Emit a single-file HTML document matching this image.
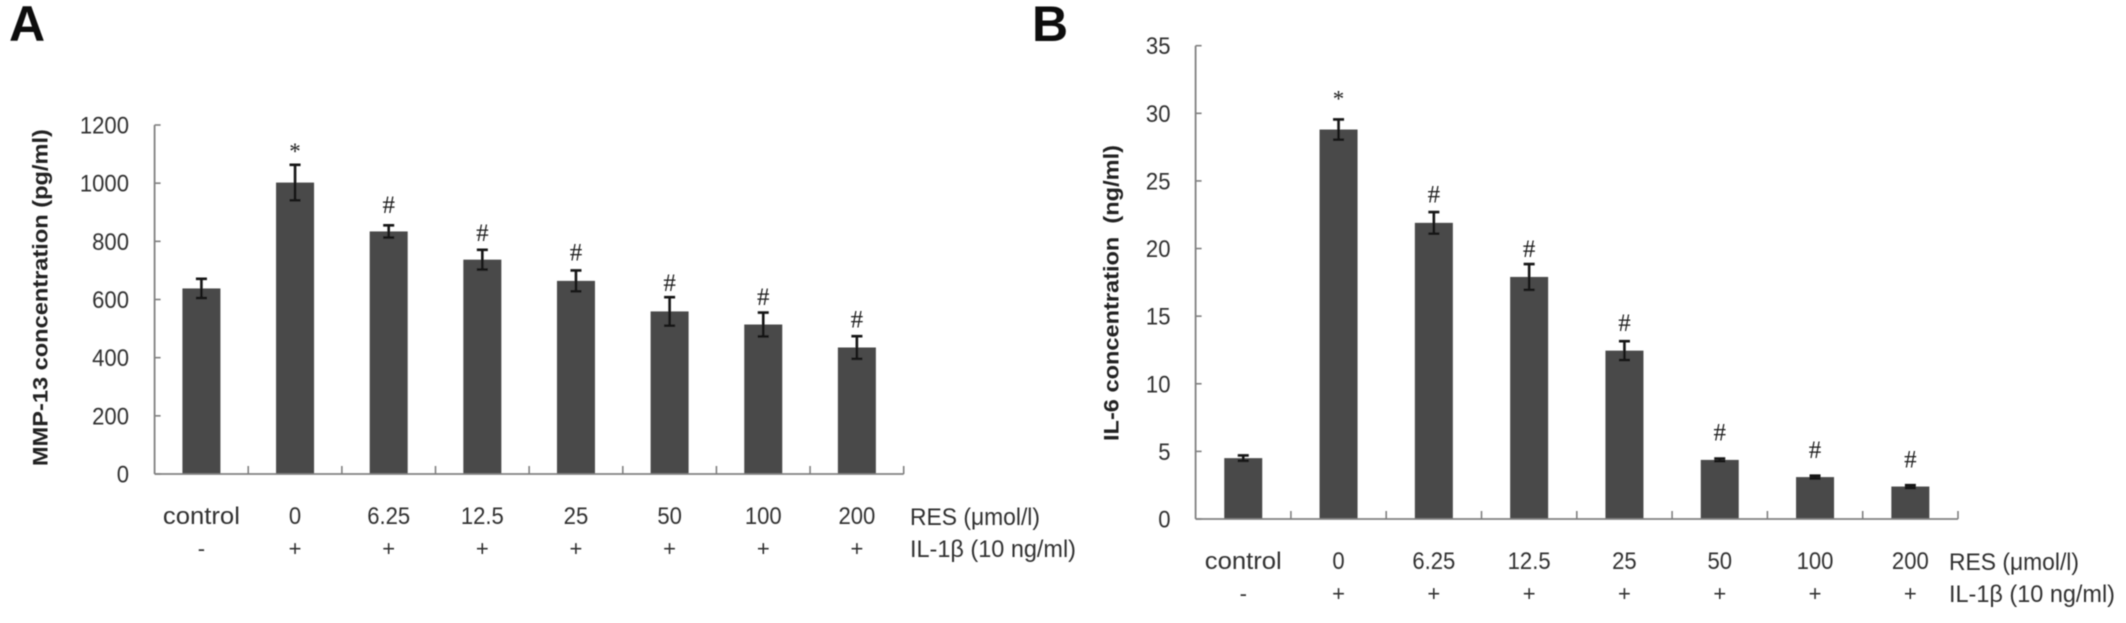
<!DOCTYPE html>
<html lang="en">
<head>
<meta charset="utf-8">
<title>MMP-13 and IL-6 concentration charts</title>
<style>
html,body{margin:0;padding:0;background:#fff;width:2126px;height:623px;overflow:hidden}
svg{display:block}
text{font-family:"Liberation Sans",sans-serif;fill:#303030;white-space:pre}
</style>
</head>
<body>
<svg id="figure" width="2126" height="623" viewBox="0 0 2126 623" xmlns="http://www.w3.org/2000/svg">
<defs><filter id="soft" x="-2%" y="-2%" width="104%" height="104%"><feGaussianBlur stdDeviation="0.6"/></filter></defs>
<g id="root" filter="url(#soft)"></g>
</svg>
<script>
const categories = ['control','0','6.25','12.5','25','50','100','200'];
const il1Row = ['-','+','+','+','+','+','+','+'];
const markers = ['','*','#','#','#','#','#','#'];

const valuesA = [638,1002,834,737,664,559,514,435];
const errorsA = [33,61,21,34,36,49,41,39];
const markerLevelsA = [0,1111,920,824,756,652,604,526];
const ticksA = [0,200,400,600,800,1000,1200];

const valuesB = [4.5,28.8,21.9,17.9,12.45,4.37,3.1,2.4];
const errorsB = [0.2,0.75,0.8,0.95,0.7,0.1,0.1,0.1];
const markerLevelsB = [0,31.1,23.9,19.85,14.4,6.3,5.0,4.3];
const ticksB = [0,5,10,15,20,25,30,35];

const NS = 'http://www.w3.org/2000/svg';
const root = document.getElementById('root');

function make(tag, attrs, txt, parent) {
  const el = document.createElementNS(NS, tag);
  for (const k in attrs) el.setAttribute(k, attrs[k]);
  if (txt !== undefined) el.textContent = txt;
  (parent || root).appendChild(el);
  return el;
}

function narrow(el, factor) {
  el.setAttribute('textLength', el.getComputedTextLength() * factor);
  el.setAttribute('lengthAdjust', 'spacingAndGlyphs');
}

function drawChart(cfg) {
  const g = make('g', {});
  
  
  const maxV = cfg.ticks[cfg.ticks.length - 1];
  const y = v => cfg.y0 - (v / maxV) * (cfg.y0 - cfg.y1);
  const band = (cfg.x1 - cfg.x0) / categories.length;
  const x = i => cfg.x0 + band * (i + 0.5);
  const barW = 38;

  categories.forEach((c, i) => {
    const v = cfg.values[i], e = cfg.errors[i], cx = x(i);
    const bar = make('rect', {x: cx - barW / 2, y: y(v), width: barW, height: cfg.y0 - y(v), fill: '#4a4a4a'}, undefined, g);
    
    

    const eb = make('path', {
      d: `M${cx} ${y(v + e)}V${y(v - e)}M${cx - 5.5} ${y(v + e)}H${cx + 5.5}M${cx - 5.5} ${y(v - e)}H${cx + 5.5}`,
      stroke: '#141414', 'stroke-width': 2.6, fill: 'none'
    }, undefined, g);
    
    

    if (markers[i]) {
      const isStar = markers[i] === '*';
      const m = make('text', {
        x: cx, y: y(cfg.markerLevels[i]) + (isStar ? 8 : 6.5), 'text-anchor': 'middle',
        'font-size': isStar ? 23 : 25, style: 'font-family:"Liberation Serif",serif;fill:#1e1e1e'
      }, markers[i], g);
      
      
    }

    const lab = make('text', {x: cx, y: cfg.labelY, 'text-anchor': 'middle', 'font-size': 24}, c, g);
    if (c === 'control') {
      lab.setAttribute('textLength', 77);
      lab.setAttribute('lengthAdjust', 'spacingAndGlyphs');
    } else {
      narrow(lab, 0.92);
    }
    
    

    const sign = make('text', {x: cx, y: cfg.labelY + 32, 'text-anchor': 'middle', 'font-size': 22}, il1Row[i], g);
    
    
  });

  const yAxis = make('line', {x1: cfg.x0, x2: cfg.x0, y1: cfg.y1, y2: cfg.y0, stroke: '#808080', 'stroke-width': 1.8}, undefined, g);
  
  
  const xAxis = make('line', {x1: cfg.x0, x2: cfg.x1, y1: cfg.y0, y2: cfg.y0, stroke: '#808080', 'stroke-width': 1.8}, undefined, g);
  
  

  cfg.ticks.forEach(t => {
    const tk = make('line', {x1: cfg.x0, x2: cfg.x0 + 6, y1: y(t), y2: y(t), stroke: '#808080', 'stroke-width': 1.6}, undefined, g);
    
    
    const tl = make('text', {x: cfg.tickX, y: y(t) + 8.5, 'text-anchor': 'end', 'font-size': 24}, String(t), g);
    narrow(tl, 0.92);
    
    
  });
  for (let i = 1; i <= categories.length; i++) {
    const px = cfg.x0 + band * i;
    const xt = make('line', {x1: px, x2: px, y1: cfg.y0, y2: cfg.y0 - 8, stroke: '#808080', 'stroke-width': 1.6}, undefined, g);
    
    
  }

  const title = make('text', {
    transform: `translate(${cfg.titleX} ${cfg.titleY}) rotate(-90)`, 'text-anchor': 'middle', 'font-size': 21,
    'font-weight': 'bold', textLength: cfg.titleLen, lengthAdjust: 'spacingAndGlyphs', style: 'fill:#222'
  }, cfg.title, g);
  
  

  const res = make('text', {x: cfg.rowX, y: cfg.labelY + 1, 'font-size': 24, textLength: 130, lengthAdjust: 'spacingAndGlyphs'}, 'RES (μmol/l)', g);
  
  
  const il = make('text', {x: cfg.rowX, y: cfg.labelY + 33, 'font-size': 24, textLength: 166, lengthAdjust: 'spacingAndGlyphs'}, 'IL-1β (10 ng/ml)', g);
  
  

  const letter = make('text', {x: cfg.letterX, y: 41, 'font-size': 50, 'font-weight': 'bold', style: 'fill:#111'}, cfg.letter, g);
  
  
}

drawChart({
  name: 'panel-a-mmp13-chart', letter: 'A', letterX: 9,
  x0: 154.6, x1: 903.7, y0: 474, y1: 125, tickX: 129, labelY: 524, rowX: 910,
  titleX: 47.5, titleY: 297.6, titleLen: 337, title: 'MMP-13 concentration (pg/ml)',
  values: valuesA, errors: errorsA, markerLevels: markerLevelsA, ticks: ticksA
});
drawChart({
  name: 'panel-b-il6-chart', letter: 'B', letterX: 1032,
  x0: 1195.6, x1: 1958, y0: 519, y1: 45.7, tickX: 1170.5, labelY: 569, rowX: 1949,
  titleX: 1118.5, titleY: 293, titleLen: 296, title: 'IL-6 concentration  (ng/ml)',
  values: valuesB, errors: errorsB, markerLevels: markerLevelsB, ticks: ticksB
});
</script>
</body>
</html>
